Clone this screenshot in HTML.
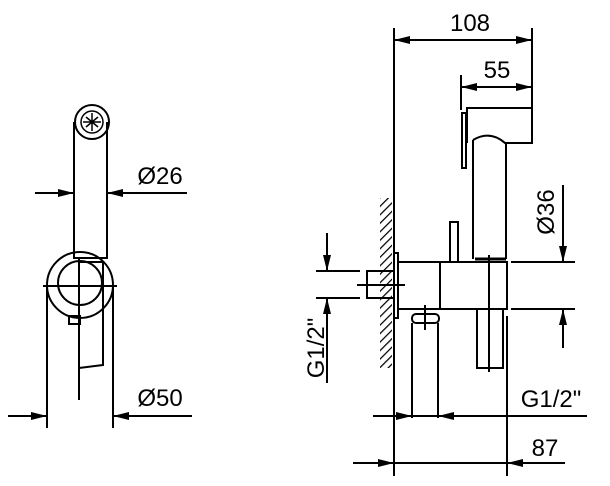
<!DOCTYPE html>
<html><head><meta charset="utf-8"><style>
html,body{margin:0;padding:0;background:#fff;width:610px;height:486px;overflow:hidden}
text{font-family:"Liberation Sans",sans-serif;font-size:24px;fill:#000}
</style></head><body>
<svg width="610" height="486" viewBox="0 0 610 486" xmlns="http://www.w3.org/2000/svg">
<defs>
<marker id="a" markerWidth="16" markerHeight="8" refX="16" refY="4" orient="auto" markerUnits="userSpaceOnUse"><path d="M0,0 L16,4 L0,8 Z" fill="#000"/></marker>
<pattern id="h" width="6" height="6" patternUnits="userSpaceOnUse" patternTransform="rotate(45)"><line x1="0" y1="0" x2="0" y2="6" stroke="#000" stroke-width="2.5"/></pattern>
</defs>
<g stroke="#000" stroke-width="2" fill="none">
<!-- LEFT VIEW -->
<circle cx="92" cy="122" r="17"/>
<circle cx="92" cy="122" r="11" stroke-width="1.5"/>
<path d="M86,117 L98,127 M98,117 L86,127 M92,113 V131 M83,122 H101" stroke-width="1.5"/>
<path d="M74,122 V258 H107 V122"/>
<circle cx="80" cy="285" r="33"/>
<circle cx="80" cy="283" r="22"/>
<path d="M79,258 V400"/>
<path d="M43,286 H117"/>
<path d="M79,262 H103 V365 L79,368 Z"/>
<path d="M69,316 H80 V324 H69 Z"/>
<path d="M47,286 V428 M113,286 V428"/>
<line x1="35" y1="193" x2="74" y2="193" marker-end="url(#a)"/>
<line x1="187" y1="193" x2="107" y2="193" marker-end="url(#a)"/>
<line x1="8" y1="416" x2="47" y2="416" marker-end="url(#a)"/>
<line x1="192" y1="416" x2="113" y2="416" marker-end="url(#a)"/>
<!-- RIGHT VIEW -->
<path d="M394,28 V476"/>
<path d="M532,28 V143 M461,75 V110"/>
<line x1="470" y1="40" x2="394" y2="40" marker-end="url(#a)"/>
<line x1="460" y1="40" x2="532" y2="40" marker-end="url(#a)"/>
<line x1="497" y1="87" x2="461" y2="87" marker-end="url(#a)"/>
<line x1="490" y1="87" x2="532" y2="87" marker-end="url(#a)"/>
<path d="M467,143 V108 H532 V143 H505 Q490,130 473,140"/>
<rect x="462" y="113" width="4" height="55"/>
<path d="M473,140 V259 M506,143 V259"/>
<rect x="380" y="198" width="12" height="170" fill="url(#h)" stroke="none"/>
<rect x="394" y="253" width="4" height="65"/>
<path d="M398,262 H507 V309 H398 M440,262 V309"/>
<path d="M475,259 H506" stroke-width="3"/>
<rect x="450" y="222" width="8" height="40" fill="#fff"/>
<rect x="367" y="271" width="27" height="27"/>
<path d="M357,285 H405"/>
<path d="M316,271 H360 M316,298 H360"/>
<line x1="327" y1="233" x2="327" y2="271" marker-end="url(#a)"/>
<line x1="327" y1="383" x2="327" y2="298" marker-end="url(#a)"/>
<rect x="412" y="314" width="27" height="9" rx="4"/>
<path d="M425,305 V330 M412,323 V418 M438,323 V418"/>
<path d="M477,309 V368 H503 V309 M489,255 V372"/>
<path d="M507,316 V476"/>
<path d="M511,262 H575 M511,309 H575"/>
<line x1="563" y1="185" x2="563" y2="262" marker-end="url(#a)"/>
<line x1="563" y1="348" x2="563" y2="309" marker-end="url(#a)"/>
<path d="M373,416 H587"/>
<line x1="380" y1="416" x2="412" y2="416" marker-end="url(#a)"/>
<line x1="470" y1="416" x2="438" y2="416" marker-end="url(#a)"/>
<path d="M353,463 H565"/>
<line x1="360" y1="463" x2="394" y2="463" marker-end="url(#a)"/>
<line x1="545" y1="463" x2="507" y2="463" marker-end="url(#a)"/>
</g>
<text x="160" y="184" text-anchor="middle">Ø26</text>
<text x="160" y="406" text-anchor="middle">Ø50</text>
<text x="470" y="31" text-anchor="middle">108</text>
<text x="497" y="78" text-anchor="middle">55</text>
<text x="551" y="407" text-anchor="middle">G1/2"</text>
<text x="545" y="456" text-anchor="middle">87</text>
<text transform="translate(324,348) rotate(-90)" text-anchor="middle">G1/2"</text>
<text transform="translate(554,212) rotate(-90)" text-anchor="middle">Ø36</text>
</svg>
</body></html>
